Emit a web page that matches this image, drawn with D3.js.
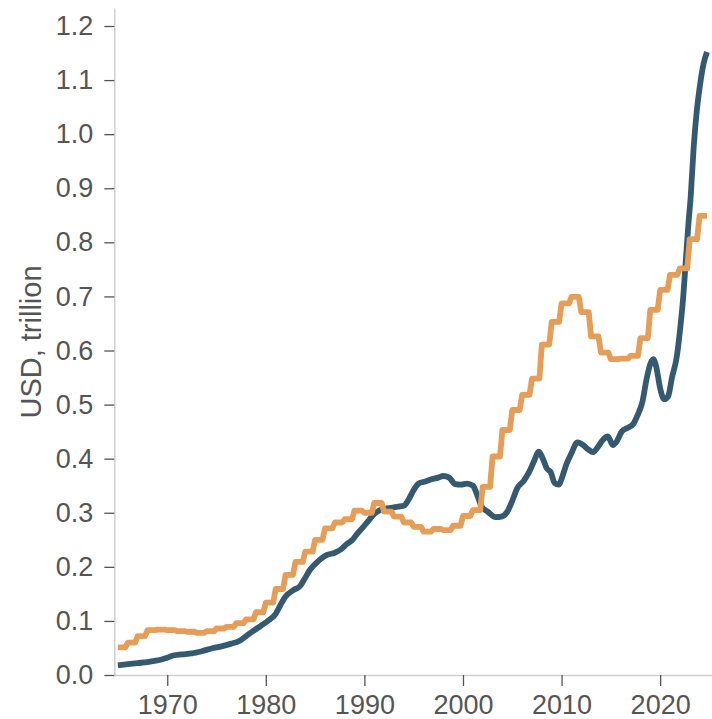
<!DOCTYPE html>
<html>
 <head>
    <style>
        body {
          margin: 0;
          background: #fff;
          font-family: 'Liberation Sans', Arial, sans-serif;
        }
        path.series {
            fill: none;
            stroke-linejoin: round;
            stroke-linecap: butt;
        }
        .axis text { fill: #555; font-size: 27px; font-family: 'Liberation Sans', Arial, sans-serif; }
        .axis .domain { stroke: #d0d0d0; stroke-width: 1.5; }
        .axis .tick line { stroke: #555; stroke-width: 1.3; }
    </style>
    <script src="https://d3js.org/d3.v7.min.js"></script>
 </head>
 <body>
    <div id="chart"></div>
    <script>
        // annual series (one level per calendar year)
        var orangeYears = d3.range(1965, 2025);
        var orangeValues = [
            0.051, 0.060, 0.072, 0.083, 0.084, 0.083, 0.081, 0.080, 0.078, 0.081,
            0.086, 0.089, 0.096, 0.103, 0.116, 0.134, 0.159, 0.185, 0.209, 0.228,
            0.250, 0.271, 0.282, 0.288, 0.304, 0.300, 0.318, 0.302, 0.293, 0.282,
            0.274, 0.265, 0.270, 0.268, 0.276, 0.294, 0.305, 0.348, 0.404, 0.453,
            0.490, 0.518, 0.548, 0.611, 0.653, 0.687, 0.699, 0.671, 0.626, 0.596,
            0.584, 0.585, 0.590, 0.623, 0.675, 0.712, 0.740, 0.752, 0.806, 0.849
        ];

        var blueDates = [
            1965.0, 1966.0, 1967.0, 1968.0, 1969.0, 1969.5, 1970.0, 1970.6, 1971.5, 1972.5,
            1973.5, 1974.5, 1975.5, 1976.5, 1977.4, 1978.0, 1978.7, 1979.5, 1980.2, 1981.0,
            1981.5, 1982.0, 1982.8, 1983.5, 1984.0, 1984.5, 1985.0, 1985.6, 1986.2, 1987.0,
            1987.6, 1988.2, 1988.8, 1989.3, 1989.8, 1990.4, 1991.0, 1991.6, 1992.3, 1993.0,
            1993.6, 1994.0, 1994.5, 1995.0, 1995.5, 1996.2, 1996.8, 1997.5, 1998.0, 1998.6,
            1999.2, 1999.8, 2000.4, 2001.0, 2001.5, 2001.9, 2002.5, 2003.3, 2003.9, 2004.5,
            2005.0, 2005.5, 2006.2, 2006.7, 2007.2, 2007.7, 2008.1, 2008.5, 2008.9, 2009.3,
            2009.7, 2010.1, 2010.5, 2011.0, 2011.6, 2012.2, 2012.7, 2013.2, 2013.7, 2014.2,
            2014.7, 2015.2, 2015.6, 2016.1, 2016.7, 2017.3, 2017.7, 2018.2, 2018.6, 2019.0,
            2019.3, 2019.6, 2020.0, 2020.4, 2020.8, 2021.2, 2021.7, 2022.0, 2022.3, 2022.6,
            2022.85, 2023.1, 2023.4, 2023.7, 2024.0, 2024.4, 2024.75
        ];
        var blueValues = [
            0.018, 0.020, 0.022, 0.024, 0.027, 0.029, 0.032, 0.036, 0.038, 0.040,
            0.044, 0.049, 0.053, 0.058, 0.064, 0.072, 0.081, 0.091, 0.100, 0.113,
            0.130, 0.145, 0.157, 0.165, 0.180, 0.195, 0.205, 0.215, 0.222, 0.226,
            0.232, 0.242, 0.250, 0.262, 0.272, 0.285, 0.298, 0.305, 0.308, 0.310,
            0.312, 0.313, 0.325, 0.342, 0.354, 0.358, 0.362, 0.365, 0.368, 0.365,
            0.353, 0.352, 0.354, 0.350, 0.330, 0.311, 0.302, 0.292, 0.293, 0.302,
            0.322, 0.345, 0.360, 0.375, 0.395, 0.413, 0.400, 0.382, 0.375, 0.355,
            0.352, 0.368, 0.390, 0.410, 0.430, 0.425, 0.417, 0.412, 0.422, 0.435,
            0.441, 0.425, 0.432, 0.450, 0.457, 0.465, 0.480, 0.505, 0.545, 0.575,
            0.584, 0.570, 0.530, 0.510, 0.515, 0.550, 0.590, 0.635, 0.690, 0.765,
            0.830, 0.885, 0.975, 1.040, 1.085, 1.130, 1.152
        ];

        var yTicks = [0, 0.1, 0.2, 0.3, 0.4, 0.5, 0.6, 0.7, 0.8, 0.9, 1.0, 1.1, 1.2];
        var xTicks = [1970, 1980, 1990, 2000, 2010, 2020];

        var W = 712, H = 719;
        var svg = d3.select("#chart").append("svg").attr("width", W).attr("height", H);

        var x = d3.scaleLinear().domain([1964.63, 2025.26]).range([114.3, 712]);
        var y = d3.scaleLinear().domain([0, 1.2333]).range([675, 8]);

        svg.append("g").attr("class", "axis")
            .attr("transform", "translate(114.3,0)")
            .call(d3.axisLeft(y).tickValues(yTicks).tickFormat(d3.format(".1f"))
                .tickSize(10).tickSizeOuter(0).tickPadding(11));

        svg.append("g").attr("class", "axis")
            .attr("transform", "translate(0,675)")
            .call(d3.axisBottom(x).tickValues(xTicks).tickFormat(d3.format("d"))
                .tickSize(11).tickSizeOuter(0).tickPadding(9));

        svg.append("text")
            .attr("transform", "translate(41,342) rotate(-90)")
            .attr("text-anchor", "middle")
            .attr("fill", "#555")
            .style("font-size", "29px")
            .text("USD, trillion");

        // each annual level held through the year's last quarter
        var orangePts = [];
        orangeYears.forEach(function (yr, i) {
            orangePts.push([yr, orangeValues[i]]);
            orangePts.push([yr + 0.75, orangeValues[i]]);
        });
        var bluePts = blueDates.map(function (d, i) { return [d, blueValues[i]]; });

        var line = d3.line().x(function (d) { return x(d[0]); }).y(function (d) { return y(d[1]); });

        svg.append("path").attr("class", "series")
            .attr("d", line.curve(d3.curveMonotoneX)(bluePts))
            .attr("stroke", "#355a6f").attr("stroke-width", 5.8);

        svg.append("path").attr("class", "series")
            .attr("d", line.curve(d3.curveLinear)(orangePts))
            .attr("stroke", "#e69d58").attr("stroke-width", 5.8);
    </script>
 </body>
</html>
